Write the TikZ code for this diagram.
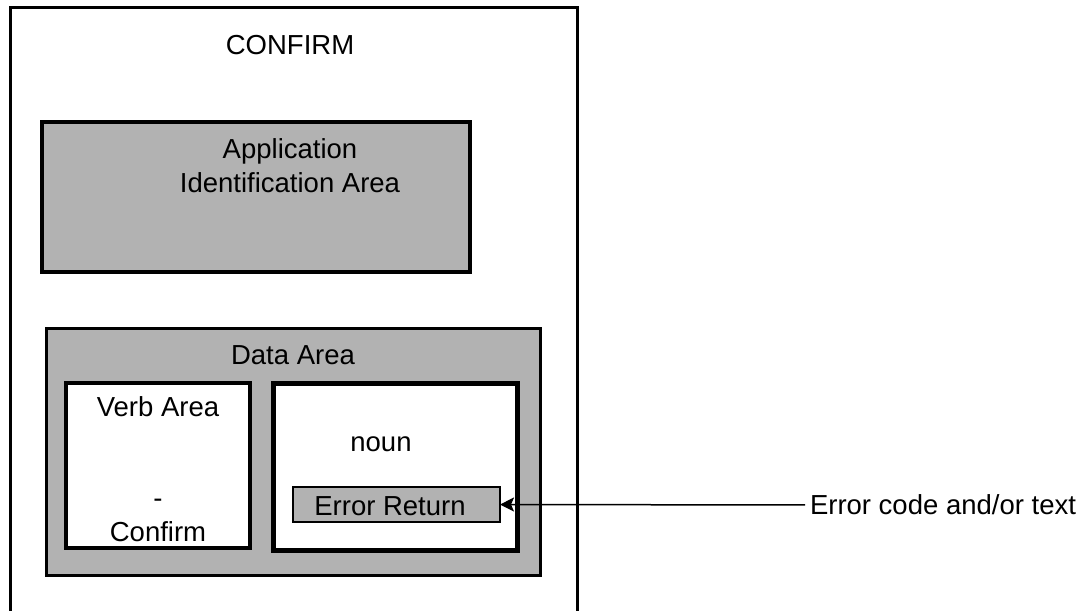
\documentclass[tikz,border=0pt]{standalone}
\usepackage{fontspec}
\setmainfont{Liberation Sans}
\usepackage{tikz}
\usetikzlibrary{positioning}
\usetikzlibrary{arrows.meta}
\definecolor{areagray}{RGB}{178,178,178}
\tikzset{
  areabox/.style args={#1,#2}{shape=rectangle,draw=black,fill=#1,line width=#2,inner sep=0pt,outer sep=0pt,anchor=north west},
  areatext/.style={inner sep=0pt, outer sep=0pt, align=center, font=\fontsize{27.5}{34}\selectfont}
}

\begin{document}
\begin{tikzpicture}[x=1pt, y=-1pt]
\useasboundingbox (0,0) rectangle (1086,610);
\draw[line width=3pt] (10,614) -- (10,8) -- (577,8) -- (577,614);
\node[areatext] (confirm) at (290,45) {CONFIRM};
\node[areabox={areagray,4pt}, minimum width=428pt, minimum height=150pt] (appid) at (42,122) {};
\node[areatext] (appidtext) at (290,166) {Application\\Identification Area};
\node[areabox={areagray,3pt}, minimum width=494pt, minimum height=247pt] (data) at (46,328) {};
\node[areatext] (datatext) at (293,355) {Data Area};
\node[areabox={white,3.5pt}, minimum width=184pt, minimum height=165pt] (verb) at (66,383) {};
\node[areatext] (verbtext) at (158,407) {Verb Area};
\node[areatext] (verbname) at (158,520) {-\\Confirm};
\node[areabox={white,5pt}, minimum width=244pt, minimum height=167pt] (noun) at (273,383) {};
\node[areatext] (nountext) at (381,444) {noun};
\node[areabox={areagray,1.5pt}, minimum width=207pt, minimum height=35pt] (errret) at (293,487) {};
\node[areatext] (errrettext) at (390,506) {Error Return};
\node[areatext, anchor=west] (errcode) at (810,505) {Error code and/or text};
\draw[line width=1.5pt, shorten <=5pt, -{Stealth[length=14pt, width=14pt, inset=3pt]}] (errcode.west) -- (errret.east);
\end{tikzpicture}
\end{document}
